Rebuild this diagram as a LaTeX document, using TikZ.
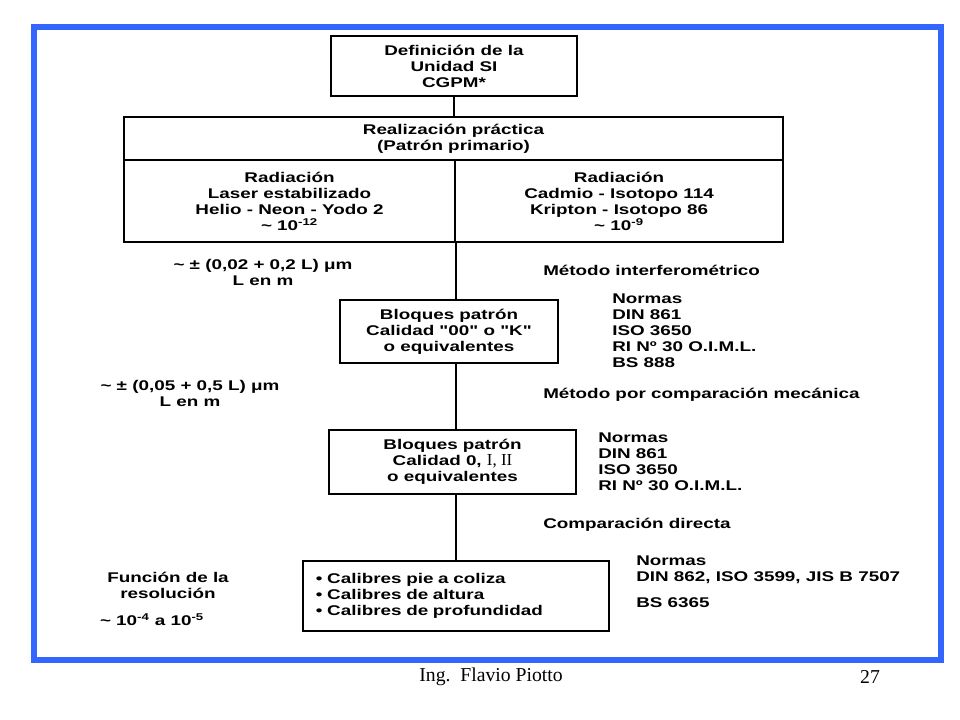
\documentclass[tikz,border=0pt]{standalone}
\usepackage{fontspec}
\setmainfont{Liberation Sans}[FakeStretch=1.34, Ligatures=TeXOff]
\newfontfamily\fussfont{Liberation Serif}
\definecolor{rahmen}{RGB}{51,102,255}

\begin{document}
\begin{tikzpicture}[x=0.025cm, y=-0.025cm, font=\fontsize{10}{11.4}\selectfont\bfseries,
  kasten/.style={draw, line width=1.2pt, align=center, inner sep=0pt},
  txt/.style={align=center, inner sep=0pt},
  norm/.style={align=left, inner sep=0pt, anchor=west}]
\useasboundingbox (0,0) rectangle (960,720);

% Rahmen
\draw[rahmen, line width=4.25pt] (34,27) rectangle (941,660);

% Kaesten
\node[kasten, minimum width=6.15cm, minimum height=1.5cm] (def) at (454,66) {Definición de la\\Unidad SI\\CGPM*};
\node[kasten, minimum width=16.475cm, minimum height=1.075cm] (real) at (453.5,138.5) {Realización práctica\\(Patrón primario)};
\node[kasten, minimum width=8.275cm, minimum height=2.05cm] (radL) at (289.5,201) {Radiación\\Laser estabilizado\\Helio - Neon - Yodo 2\\\textasciitilde{} 10\textsuperscript{-12}};
\node[kasten, minimum width=8.2cm, minimum height=2.05cm] (radR) at (619,201) {Radiación\\Cadmio - Isotopo 114\\Kripton - Isotopo 86\\\textasciitilde{} 10\textsuperscript{-9}};
\node[kasten, minimum width=5.45cm, minimum height=1.575cm] (bloq1) at (449,331.5) {Bloques patrón\\Calidad "00" o "K"\\o equivalentes};
\node[kasten, minimum width=6.175cm, minimum height=1.6cm] (bloq2) at (452.5,462) {Bloques patrón\\Calidad 0, {\fussfont\mdseries\fontsize{12}{11.4}\selectfont I, II}\\o equivalentes};
\node[kasten, align=left, text width=7.0cm, inner xsep=0.325cm, minimum height=1.75cm] (calib) at (456,596) {• Calibres pie a coliza\\• Calibres de altura\\• Calibres de profundidad};

% Verbindungen
\draw[line width=1.2pt] (def.south) -- (def.south |- real.north);
\draw[line width=1.2pt] (radL.south east) -- (radL.south east |- bloq1.north);
\draw[line width=1.2pt] (radL.south east |- bloq1.south) -- (radL.south east |- bloq2.north);
\draw[line width=1.2pt] (radL.south east |- bloq2.south) -- (radL.south east |- calib.north);

% Links
\node[txt] (tol1) at (263,272) {\textasciitilde{} ± (0,02 + 0,2 L) μm\\L en m};
\node[txt] (tol2) at (190,393) {\textasciitilde{} ± (0,05 + 0,5 L) μm\\L en m};
\node[txt] (funk) at (168,585) {Función de la\\resolución};
\node[txt] (res) at (152,620) {\textasciitilde{} 10\textsuperscript{-4} a 10\textsuperscript{-5}};

% Rechts
\node[norm] (met1) at (543,270) {Método interferométrico};
\node[norm] (met2) at (543,395) {Método por comparación mecánica};
\node[norm] (met3) at (543,525) {Comparación directa};
\node[norm] (norm1) at (612,330.5) {Normas\\DIN 861\\ISO 3650\\RI Nº 30 O.I.M.L.\\BS 888};
\node[norm] (norm2) at (598,461.5) {Normas\\DIN 861\\ISO 3650\\RI Nº 30 O.I.M.L.};
\node[norm] (norm3) at (636,582) {Normas\\DIN 862, ISO 3599, JIS B 7507\\[0.25cm]BS 6365};

% Fusszeile
\node[inner sep=0pt, font=\fussfont\fontsize{14}{16}\selectfont] (autor) at (491,677) {Ing.\ \ Flavio Piotto};
\node[inner sep=0pt, font=\fussfont\fontsize{14}{16}\selectfont] (seite) at (870,677) {27};
\end{tikzpicture}
\end{document}
